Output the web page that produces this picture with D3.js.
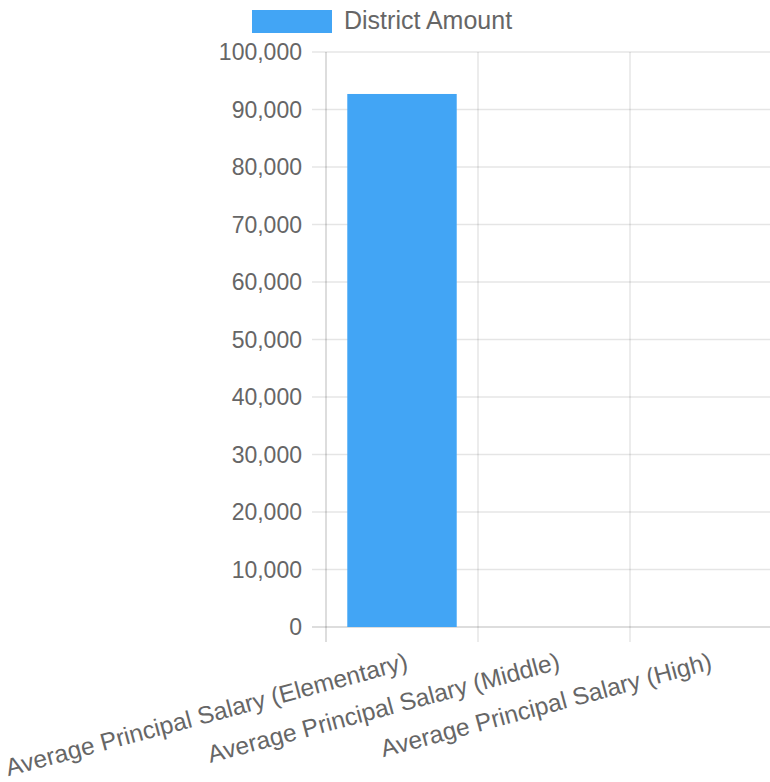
<!DOCTYPE html>
<html><head><meta charset="utf-8">
<script src="https://cdn.jsdelivr.net/npm/d3@7"></script>
<style>body{margin:0;background:#fff}svg{display:block}text{font-family:"Liberation Sans",Arial,sans-serif;fill:#666}</style>
</head><body>
<svg id="c" width="770" height="782"></svg>
<script>
const categories = ["Average Principal Salary (Elementary)", "Average Principal Salary (Middle)", "Average Principal Salary (High)"];
const seriesName = "District Amount";
const values = [92700, null, null];
const yTicks = [0, 10000, 20000, 30000, 40000, 50000, 60000, 70000, 80000, 90000, 100000];

(function () {
const svg = d3.select("#c");
const pLeft = 326, pRight = 782, pTop = 52, pBottom = 627;
const color = "#42a5f5";

const x = d3.scaleBand().domain(categories).range([pLeft, pRight]).paddingInner(0).paddingOuter(0);
const y = d3.scaleLinear().domain([0, 100000]).range([pBottom, pTop]);

// horizontal grid
svg.append("g").selectAll("line").data(yTicks).join("line")
  .attr("x1", 312).attr("x2", 770)
  .attr("y1", d => y(d)).attr("y2", d => y(d))
  .attr("stroke", d => d === 0 ? "rgba(0,0,0,0.18)" : "rgba(0,0,0,0.1)").attr("stroke-width", 1.5);

// vertical grid at category boundaries
const bounds = categories.map(c => x(c));
svg.append("g").selectAll("line").data(bounds).join("line")
  .attr("x1", d => d).attr("x2", d => d)
  .attr("y1", pTop).attr("y2", 642)
  .attr("stroke", (d, i) => i === 0 ? "rgba(0,0,0,0.18)" : "rgba(0,0,0,0.1)").attr("stroke-width", 1.5);

// y tick labels
const fmt = d3.format(",");
svg.append("g").selectAll("text").data(yTicks).join("text")
  .attr("x", 302).attr("y", d => y(d)).attr("dy", "0.36em")
  .attr("text-anchor", "end").attr("font-size", 23)
  .text(d => fmt(d));

// bars
const bw = x.bandwidth() * 0.72;
svg.append("g").selectAll("rect").data(categories.map((c, i) => ({c, v: values[i]})).filter(d => d.v != null)).join("rect")
  .attr("x", d => x(d.c) + (x.bandwidth() - bw) / 2)
  .attr("width", bw)
  .attr("y", d => y(d.v))
  .attr("height", d => y(0) - y(d.v))
  .attr("fill", color);

// x labels
svg.append("g").selectAll("text").data(categories).join("text")
  .attr("transform", d => `translate(${x(d) + x.bandwidth() / 2 + 2},${650}) rotate(-15)`)
  .attr("text-anchor", "end").attr("dy", "0.8em").attr("font-size", 24.5)
  .text(d => d);

// legend
svg.append("rect").attr("x", 252).attr("y", 10).attr("width", 80).attr("height", 23).attr("fill", color);
svg.append("text").attr("x", 344).attr("y", 29).attr("font-size", 25).text(seriesName);
})();
</script>
</body></html>
